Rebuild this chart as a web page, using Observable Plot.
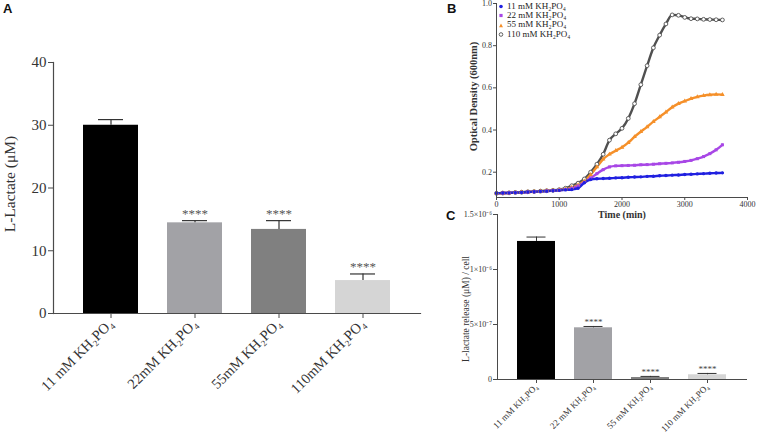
<!DOCTYPE html>
<html><head><meta charset="utf-8">
<script src="https://cdn.jsdelivr.net/npm/d3@7"></script>
<script src="https://cdn.jsdelivr.net/npm/@observablehq/plot@0.6"></script>
<style>
body{margin:0;background:#fff;}
#root{position:relative;width:758px;height:433px;overflow:hidden;font-family:"Liberation Serif",serif;background:#fff;}
.panel{position:absolute;}
.letter{position:absolute;font:bold 13px "Liberation Sans",Arial,sans-serif;color:#111;}
#legendB{position:absolute;left:497px;top:2px;font:9px "Liberation Serif",serif;color:#222;line-height:9.2px;}
#legendB .row{display:flex;align-items:center;white-space:nowrap;}
#legendB svg{margin-right:2px;}
</style></head><body><div id="root"></div><script>
// ---- Panel A data ----
const groupsA = ["11 mM KH₂PO₄", "22mM KH₂PO₄", "55mM KH₂PO₄", "110mM KH₂PO₄"];
const lactateA = [30.0, 14.45, 13.4, 5.25];
const errA = [0.9, 0.35, 1.4, 1.05];
const sigA = ["", "****", "****", "****"];
const yTicksA = [0, 10, 20, 30, 40];

// ---- Panel B data ----
const seriesB = ["11 mM KH₂PO₄", "22 mM KH₂PO₄", "55 mM KH₂PO₄", "110 mM KH₂PO₄"];
const timeMin = d3.range(0, 3601, 100);
const od11 = [0.100,0.101,0.102,0.103,0.104,0.106,0.107,0.109,0.110,0.112,0.114,0.116,0.118,0.124,0.150,0.165,0.169,0.170,0.171,0.173,0.174,0.176,0.177,0.178,0.180,0.181,0.183,0.184,0.186,0.187,0.189,0.190,0.192,0.193,0.195,0.196,0.197];
const od22 = [0.100,0.101,0.102,0.103,0.104,0.106,0.107,0.109,0.111,0.113,0.115,0.118,0.124,0.135,0.152,0.172,0.193,0.212,0.225,0.230,0.231,0.232,0.233,0.235,0.236,0.238,0.240,0.242,0.244,0.247,0.251,0.256,0.264,0.274,0.288,0.306,0.330];
const od55 = [0.100,0.101,0.102,0.103,0.105,0.106,0.108,0.110,0.112,0.114,0.116,0.120,0.128,0.140,0.158,0.188,0.225,0.262,0.285,0.302,0.318,0.340,0.368,0.392,0.415,0.440,0.462,0.485,0.508,0.525,0.537,0.549,0.557,0.563,0.567,0.569,0.568];
const od110 = [0.100,0.101,0.102,0.104,0.105,0.107,0.108,0.110,0.112,0.114,0.117,0.124,0.136,0.148,0.168,0.200,0.238,0.285,0.352,0.382,0.408,0.455,0.525,0.615,0.705,0.790,0.850,0.903,0.946,0.944,0.934,0.928,0.927,0.925,0.924,0.923,0.922];
const xTicksB = [0, 1000, 2000, 3000, 4000];
const yTicksB = [0.2, 0.4, 0.6, 0.8, 1.0];

// ---- Panel C data ----
const groupsC = ["11 mM KH₂PO₄", "22 mM KH₂PO₄", "55 mM KH₂PO₄", "110 mM KH₂PO₄"];
const releaseC = [1.255e-6, 0.470e-6, 0.018e-6, 0.043e-6];
const errC = [0.040e-6, 0.012e-6, 0.010e-6, 0.012e-6];
const sigC = ["", "****", "****", "****"];
const yTicksC = [0, 5e-7, 1e-6, 1.5e-6];
const yTickLabelsC = ["0", "5×10⁻⁷", "1×10⁻⁶", "1.5×10⁻⁶"];

// ---- styles ----
const barColors = ["#000000", "#a2a2a6", "#808080", "#d5d5d5"];
const lineColors = ["#2020e0", "#a847e6", "#f5902a", "#505050"];
const axisColor = "#4a4a4a";
const serif = "Liberation Serif, Times New Roman, serif";

const root = document.getElementById("root");
function place(el, left, top) {
  const d = document.createElement("div");
  d.className = "panel"; d.style.left = left + "px"; d.style.top = top + "px";
  d.appendChild(el); root.appendChild(d); return d;
}
function letter(t, left, top) {
  const d = document.createElement("div"); d.className = "letter";
  d.textContent = t; d.style.left = left + "px"; d.style.top = top + "px"; root.appendChild(d);
}

// ---- Panel A ----
const rowsA = groupsA.map((g, i) => ({g, v: lactateA[i], e: errA[i], s: sigA[i]}));
const plotA = Plot.plot({
  width: 440, height: 433,
  marginLeft: 53, marginRight: 20, marginTop: 62, marginBottom: 120,
  style: {fontFamily: serif, fontSize: "15px", color: "#333", background: "transparent", overflow: "visible"},
  x: {domain: groupsA, paddingInner: 0.34, paddingOuter: 0.34},
  y: {domain: [0, 40]},
  color: {domain: groupsA, range: barColors},
  marks: [
    Plot.barY(rowsA, {x: "g", y: "v", fill: "g"}),
    Plot.ruleX(rowsA, {x: "g", y1: "v", y2: d => d.v + d.e, stroke: "#333", strokeWidth: 1.2}),
    Plot.tickY(rowsA, {x: "g", y: d => d.v + d.e, stroke: "#333", strokeWidth: 1.2, insetLeft: 15, insetRight: 15}),
    Plot.text(rowsA, {x: "g", y: d => d.v + d.e, text: "s", lineAnchor: "bottom", dy: -3, fontSize: 13, fill: "#555"}),
    Plot.axisY({ticks: yTicksA, tickSize: 5, tickPadding: 2, stroke: axisColor, label: null, fontSize: 15}),
    Plot.axisX({tickRotate: -45, tickSize: 5, tickPadding: 3, stroke: axisColor, label: null, fontSize: 14.5}),
    Plot.text(["L-Lactate (μM)"], {frameAnchor: "left", textAnchor: "middle", rotate: -90, dx: -43, dy: -4, fontSize: 15.5, fill: "#333"}),
    Plot.frame({anchor: "left", stroke: axisColor, strokeWidth: 1.2}),
    Plot.frame({anchor: "bottom", stroke: axisColor, strokeWidth: 1.2})
  ]
});
place(plotA, 0, 0);

// ---- Panel B ----
const odB = [od11, od22, od55, od110];
const rowsB = seriesB.flatMap((s, k) => timeMin.map((t, i) => ({s, k, t, v: odB[k][i]}))).reverse();
const plotB = Plot.plot({
  width: 318, height: 220,
  marginLeft: 56, marginRight: 11, marginTop: 3, marginBottom: 23,
  style: {fontFamily: serif, fontSize: "8px", color: "#333", background: "transparent", overflow: "visible"},
  x: {domain: [0, 4000]},
  y: {domain: [0.08, 1.0]},
  color: {domain: seriesB, range: lineColors},
  symbol: {domain: seriesB, range: ["circle", "square", "triangle", "circle"]},
  marks: [
    Plot.line(rowsB, {x: "t", y: "v", z: "s", stroke: "s", strokeWidth: 2.4, curve: "monotone-x"}),
    Plot.dot(rowsB, {x: "t", y: "v", symbol: "s", r: 1.9, stroke: "s", strokeWidth: 0.9, fill: d => d.k === 3 ? "white" : null}),
    Plot.dot(rowsB, {filter: d => d.k !== 3, x: "t", y: "v", symbol: "s", r: 1.7, fill: "s"}),
    Plot.axisX({ticks: xTicksB, tickFormat: d3.format("d"), tickSize: 3, tickPadding: 1, stroke: axisColor, label: null, fontSize: 8}),
    Plot.axisY({ticks: yTicksB, tickFormat: d3.format(".1f"), tickSize: 3, tickPadding: 1.5, stroke: axisColor, label: null, fontSize: 8}),
    Plot.text(["Time (min)"], {frameAnchor: "bottom", dy: 20, fontSize: 10, fontWeight: "bold", fill: "#333"}),
    Plot.text(["Optical Density (600nm)"], {frameAnchor: "left", textAnchor: "middle", rotate: -90, dx: -23, dy: -4, fontSize: 10.5, fontWeight: "bold", fill: "#333"}),
    Plot.frame({anchor: "left", stroke: axisColor}),
    Plot.frame({anchor: "bottom", stroke: axisColor})
  ]
});
place(plotB, 440, 0);

// legend B (HTML)
const legend = document.createElement("div");
legend.id = "legendB";
const symbolsB = ["circle", "square", "triangle", "ring"];
seriesB.forEach((s, k) => {
  const row = document.createElement("div"); row.className = "row";
  const sv = d3.create("svg").attr("width", 8).attr("height", 9);
  const c = lineColors[k];
  if (symbolsB[k] === "circle") sv.append("circle").attr("cx", 4).attr("cy", 4.5).attr("r", 1.8).attr("fill", c);
  if (symbolsB[k] === "square") sv.append("rect").attr("x", 2.4).attr("y", 2.9).attr("width", 3.2).attr("height", 3.2).attr("fill", c);
  if (symbolsB[k] === "triangle") sv.append("path").attr("d", "M4,2.6L6,6.2L2,6.2Z").attr("fill", c);
  if (symbolsB[k] === "ring") sv.append("circle").attr("cx", 4).attr("cy", 4.5).attr("r", 1.8).attr("fill", "white").attr("stroke", c).attr("stroke-width", 0.9);
  row.appendChild(sv.node());
  const sp = document.createElement("span"); sp.textContent = s; row.appendChild(sp);
  legend.appendChild(row);
});
root.appendChild(legend);

// ---- Panel C ----
const rowsC = groupsC.map((g, i) => ({g, v: releaseC[i], e: errC[i], s: sigC[i]}));
const plotC = Plot.plot({
  width: 318, height: 233,
  marginLeft: 57, marginRight: 12, marginTop: 14, marginBottom: 54,
  style: {fontFamily: serif, fontSize: "8px", color: "#333", background: "transparent", overflow: "visible"},
  x: {domain: groupsC, paddingInner: 0.333, paddingOuter: 0.35},
  y: {domain: [0, 1.5e-6]},
  color: {domain: groupsC, range: barColors},
  marks: [
    Plot.barY(rowsC, {x: "g", y: "v", fill: "g"}),
    Plot.ruleX(rowsC, {x: "g", y1: "v", y2: d => d.v + d.e, stroke: "#333"}),
    Plot.tickY(rowsC, {x: "g", y: d => d.v + d.e, stroke: "#333", insetLeft: 9.5, insetRight: 9.5}),
    Plot.text(rowsC, {x: "g", y: d => d.v + d.e, text: "s", lineAnchor: "bottom", dy: -1, fontSize: 9, fill: "#444"}),
    Plot.axisY({ticks: yTicksC, tickFormat: (d, i) => yTickLabelsC[i], tickSize: 4, tickPadding: 1.5, stroke: axisColor, label: null, fontSize: 8}),
    Plot.axisX({tickRotate: -45, tickSize: 4, tickPadding: 2, stroke: axisColor, label: null, fontSize: 9}),
    Plot.text(["L-lactate release (μM) / cell"], {frameAnchor: "left", textAnchor: "middle", rotate: -90, dx: -32, dy: 12, fontSize: 9.5, fill: "#333"}),
    Plot.frame({anchor: "left", stroke: axisColor}),
    Plot.frame({anchor: "bottom", stroke: axisColor})
  ]
});
place(plotC, 440, 200);

letter("A", 3, 1);
letter("B", 447, 1);
letter("C", 446, 208);
</script></body></html>
